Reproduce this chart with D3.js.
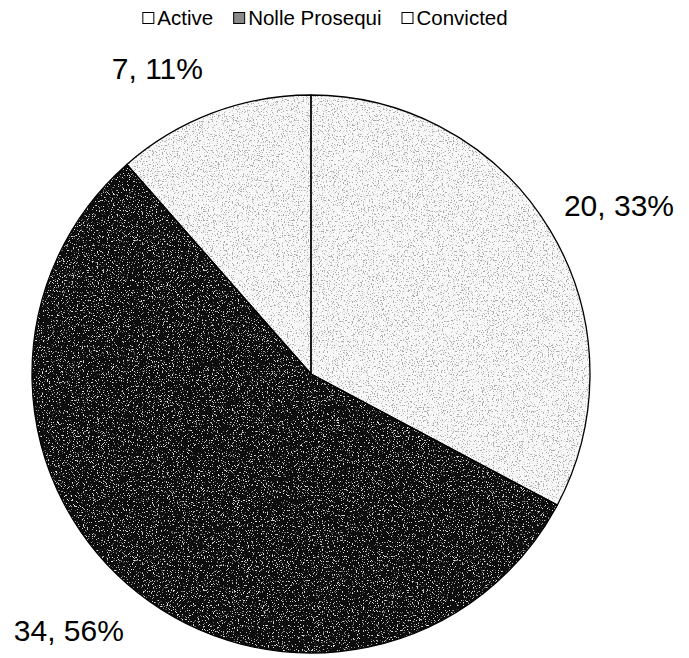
<!DOCTYPE html>
<html>
<head>
<meta charset="utf-8">
<script src="https://cdn.jsdelivr.net/npm/d3@7"></script>
<style>
	body { margin: 0; background: #fff; }
</style>
</head>
<body>
<script>

//chart data
let categories = ["Active", "Nolle Prosequi", "Convicted"];
let counts = [20, 34, 7];
let percentLabels = ["33%", "56%", "11%"];

let svg = d3.select("body").append("svg")
	.attr("width", 689)
	.attr("height", 658);

let width = +svg.attr("width");
let height = +svg.attr("height");

let cx = 311, cy = 374, radius = 279;

//speckled fills, like the scanned original
let defs = svg.append("defs");

function speckle(id, dotGray, sharp, cut, seed) {
	let f = defs.append("filter").attr("id", id)
		.attr("x", 0).attr("y", 0).attr("width", 1).attr("height", 1);
	f.append("feTurbulence")
		.attr("type", "fractalNoise")
		.attr("baseFrequency", 0.8)
		.attr("numOctaves", 2)
		.attr("seed", seed)
		.attr("result", "noise");
	f.append("feColorMatrix")
		.attr("in", "noise")
		.attr("type", "matrix")
		.attr("values", `0 0 0 0 ${dotGray}  0 0 0 0 ${dotGray}  0 0 0 0 ${dotGray}  ${sharp} 0 0 0 ${cut}`)
		.attr("result", "dots");
	f.append("feComposite")
		.attr("in", "dots").attr("in2", "SourceAlpha")
		.attr("operator", "in").attr("result", "clipped");
	let m = f.append("feMerge");
	m.append("feMergeNode").attr("in", "SourceGraphic");
	m.append("feMergeNode").attr("in", "clipped");
}
speckle("speckLight", 0.4, 10, -5.8, 3);
speckle("speckDark", 0.75, 10, -6.2, 7);

let fills = d3.scaleOrdinal()
	.domain(categories)
	.range(["#f8f8f8", "#0a0a0a", "#f8f8f8"]);

let filters = d3.scaleOrdinal()
	.domain(categories)
	.range(["url(#speckLight)", "url(#speckDark)", "url(#speckLight)"]);

let data = categories.map((c, i) => ({ name: c, value: counts[i], pct: percentLabels[i] }));

let pie = d3.pie()
	.value(d => d.value)
	.sort(null);

let arc = d3.arc()
	.innerRadius(0)
	.outerRadius(radius);

let g = svg.append("g")
	.attr("transform", `translate(${cx}, ${cy})`);

g.selectAll("path.slice")
	.data(pie(data))
	.enter().append("path")
	.attr("class", "slice")
	.attr("d", arc)
	.attr("fill", d => fills(d.data.name))
	.attr("filter", d => filters(d.data.name));

//slice borders drawn on top so the noise doesn't hide them
g.selectAll("path.edge")
	.data(pie(data))
	.enter().append("path")
	.attr("class", "edge")
	.attr("d", arc)
	.attr("fill", "none")
	.attr("stroke", "#000")
	.attr("stroke-width", 1.3);

//labels outside the pie
let labelR = 295;
g.selectAll("text.lbl")
	.data(pie(data))
	.enter().append("text")
	.attr("class", "lbl")
	.attr("font-family", "Liberation Sans, Arial, sans-serif")
	.attr("font-size", 30)
	.attr("fill", "#000")
	.attr("dy", "0.35em")
	.attr("text-anchor", d => {
		let a = (d.startAngle + d.endAngle) / 2;
		return Math.sin(a) >= 0 ? "start" : "end";
	})
	.attr("x", d => {
		let a = (d.startAngle + d.endAngle) / 2;
		return labelR * Math.sin(a) + (Math.sin(a) >= 0 ? 0 : -4);
	})
	.attr("y", d => {
		let a = (d.startAngle + d.endAngle) / 2;
		return -labelR * Math.cos(a) - 32 * Math.cos(a);
	})
	.text(d => d.data.value + ", " + d.data.pct);

//legend
let boxFills = ["#fff", "#8a8a8a", "#fff"];
let legend = svg.append("g");
let lx = 0;
categories.forEach((c, i) => {
	let item = legend.append("g").attr("transform", `translate(${lx}, 0)`);
	item.append("rect")
		.attr("x", 0.5).attr("y", 12.5)
		.attr("width", 11).attr("height", 11)
		.attr("fill", boxFills[i])
		.attr("stroke", "#000")
		.attr("stroke-width", 1);
	let t = item.append("text")
		.attr("x", 15)
		.attr("y", 25)
		.attr("font-family", "Liberation Sans, Arial, sans-serif")
		.attr("font-size", 20.5)
		.attr("fill", "#000")
		.text(c);
	lx += 15 + t.node().getComputedTextLength() + 20;
});
lx -= 20;
legend.attr("transform", `translate(${(135 + 515) / 2 - lx / 2}, 0)`);

</script>
</body>
</html>
